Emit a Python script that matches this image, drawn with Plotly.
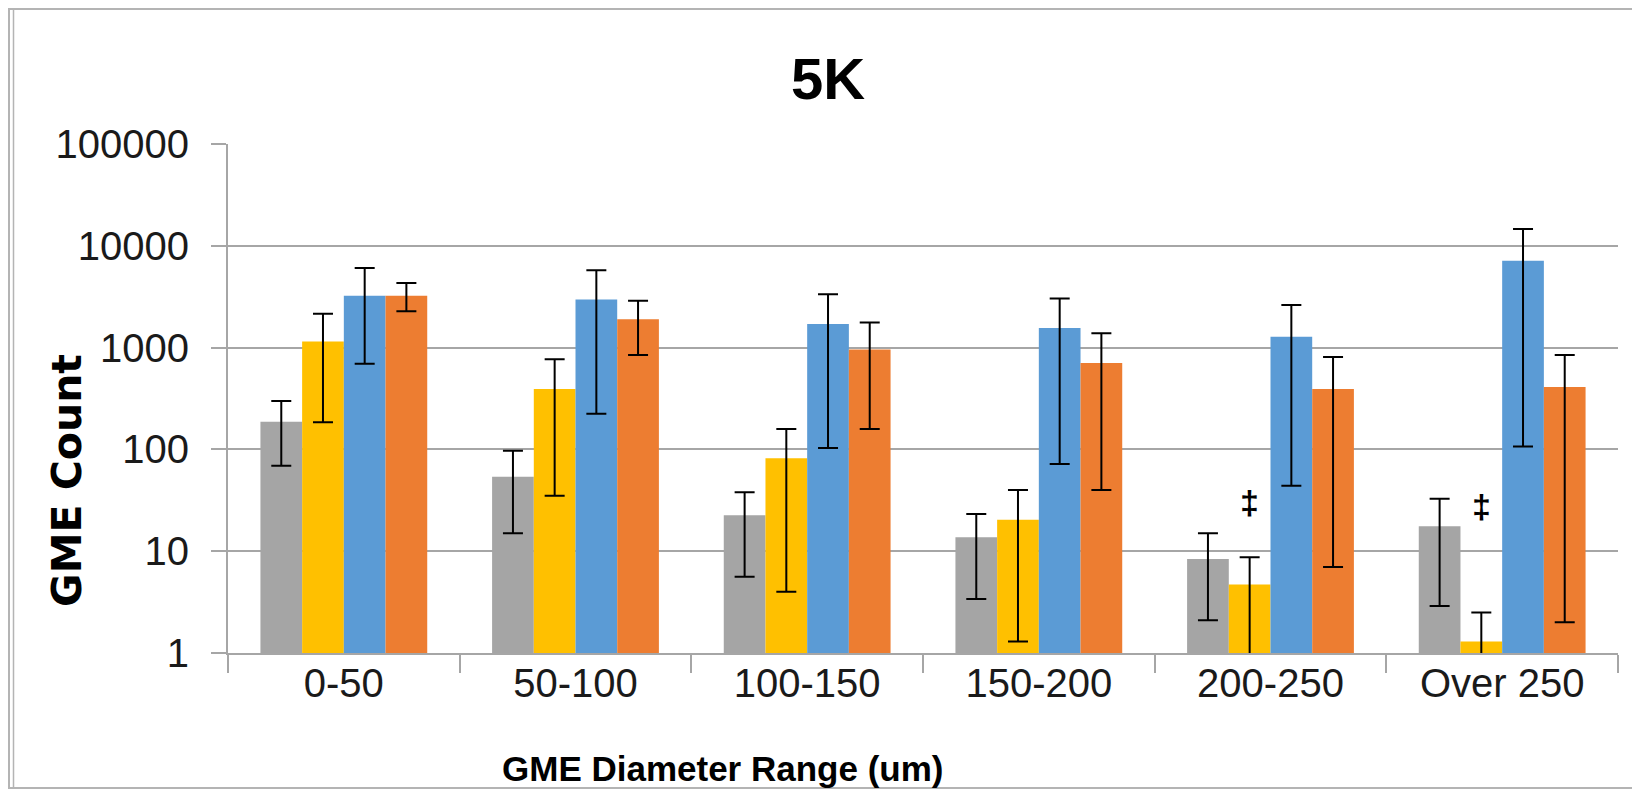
import numpy as np
import plotly.graph_objects as go

categories = ["0-50", "50-100", "100-150", "150-200", "200-250", "Over 250"]

gray_vals = [187, 54, 22.5, 13.7, 8.4, 17.6]
gray_plus = [112, 43, 15.5, 9.5, 6.6, 15.2]
gray_minus = [118, 39, 16.9, 10.3, 6.3, 14.7]

yellow_vals = [1150, 392, 82, 20.4, 4.7, 1.3]
yellow_plus = [1000, 375, 77, 19.6, 4.0, 1.2]
yellow_minus = [965, 357, 78, 19.1, 5.0, 1.5]

blue_vals = [3240, 2960, 1710, 1560, 1280, 7140]
blue_plus = [2810, 2790, 1630, 1470, 1340, 7460]
blue_minus = [2545, 2736, 1607, 1488, 1236, 7033]

orange_vals = [3240, 1900, 960, 706, 392, 410]
orange_plus = [1070, 990, 800, 674, 418, 436]
orange_minus = [970, 1054, 801, 666, 385, 408]

y_tick_vals = [1, 10, 100, 1000, 10000, 100000]
y_tick_text = ["1", "10", "100", "1000", "10000", "100000"]

dagger_cats = ["200-250", "Over 250"]
dagger_y = [30.6, 27.8]

series = [
    ("Series 1", gray_vals, gray_plus, gray_minus, "#A5A5A5"),
    ("Series 2", yellow_vals, yellow_plus, yellow_minus, "#FFC000"),
    ("Series 3", blue_vals, blue_plus, blue_minus, "#5B9BD5"),
    ("Series 4", orange_vals, orange_plus, orange_minus, "#ED7D31"),
]

fig = go.Figure()
for name, vals, plus, minus, color in series:
    fig.add_trace(go.Bar(
        x=categories, y=vals, name=name,
        marker=dict(color=color, line=dict(width=0)),
        error_y=dict(type="data", symmetric=False, array=plus, arrayminus=minus,
                     color="#000000", thickness=2, width=10),
    ))

# page has an 8px body margin; figure coordinates = page coordinates - 8
OFF = 8
W, H = 1632, 783
# plot area in page coords: x 228..1618, y 144..653
L = 228 - OFF
R = W - (1618 - OFF)
T = 144 - OFF
B = H - (653 - OFF)
pw, ph = W - L - R, H - T - B

def px(x):
    return (x - OFF - L) / pw

def py(y):
    return (H - B - (y - OFF)) / ph

annotations = [
    dict(text="<b>5K</b>", x=px(828), y=py(78), xref="paper", yref="paper",
         showarrow=False, font=dict(family="Liberation Sans", size=58, color="#000000"),
         xanchor="center", yanchor="middle"),
    dict(text="<b>GME Count</b>", x=px(67), y=py(481), xref="paper", yref="paper",
         showarrow=False, textangle=-90,
         font=dict(family="DejaVu Sans", size=41, color="#000000"),
         xanchor="center", yanchor="middle"),
    dict(text="<b>GME Diameter Range (um)</b>", x=px(722), y=py(768), xref="paper", yref="paper",
         showarrow=False, font=dict(family="Liberation Sans", size=35, color="#000000"),
         xanchor="center", yanchor="middle"),
]
for c, yv in zip(dagger_cats, dagger_y):
    annotations.append(dict(text="<b>‡</b>", x=c, y=np.log10(yv), xref="x", yref="y",
                            xshift=-21, showarrow=False,
                            font=dict(family="Liberation Sans", size=34, color="#000000"),
                            xanchor="center", yanchor="middle"))

shapes = [
    dict(type="rect", xref="paper", yref="paper", x0=px(9), x1=px(1680), y0=py(788), y1=py(9),
         line=dict(color="#B4B4B4", width=2), fillcolor="rgba(0,0,0,0)", layer="below"),
    dict(type="line", xref="paper", yref="paper", x0=px(13.5), x1=px(13.5), y0=py(788), y1=py(9),
         line=dict(color="#B4B4B4", width=1.5), layer="below"),
]

fig.update_layout(
    width=W, height=H,
    margin=dict(l=L, r=R, t=T, b=B, autoexpand=False),
    paper_bgcolor="white", plot_bgcolor="white",
    barmode="group", bargap=0.28, bargroupgap=0,
    showlegend=False,
    annotations=annotations,
    shapes=shapes,
    xaxis=dict(
        type="category", tickson="boundaries", ticks="outside", ticklen=18,
        tickcolor="#A6A6A6", tickwidth=2,
        showline=True, linecolor="#A6A6A6", linewidth=2,
        showgrid=False, zeroline=False,
        tickfont=dict(family="Liberation Sans", size=40, color="#1a1a1a"),
        ticklabelstandoff=-6,
        automargin=False,
    ),
    yaxis=dict(
        type="log", range=[0, 5],
        tickvals=y_tick_vals, ticktext=y_tick_text,
        ticks="outside", ticklen=15, tickcolor="#A6A6A6", tickwidth=2,
        showline=True, linecolor="#A6A6A6", linewidth=2,
        showgrid=True, gridcolor="#A6A6A6", gridwidth=2,
        zeroline=False,
        tickfont=dict(family="Liberation Sans", size=40, color="#1a1a1a"),
        ticklabelstandoff=14,
        automargin=False,
    ),
)

fig.write_html("out.html")
